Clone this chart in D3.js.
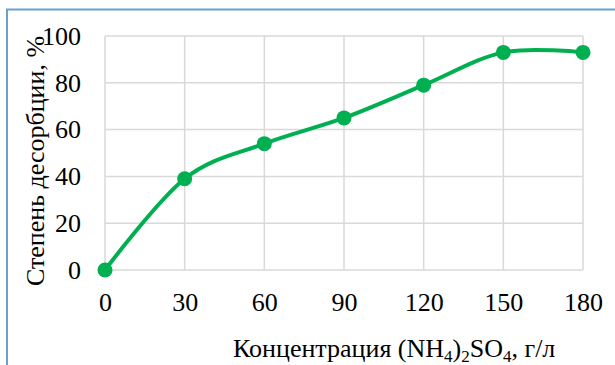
<!DOCTYPE html>
<html>
<head>
<meta charset="utf-8">
<script src="https://cdn.jsdelivr.net/npm/d3@7"></script>
<style>
  html, body { margin: 0; padding: 0; background: #fff; }
  svg { display: block; }
  text { font-family: "Liberation Serif", "Times New Roman", serif; fill: #000; }
</style>
</head>
<body>
<script>
// Desorption degree vs. ammonium sulfate concentration
const concentrations = [0, 30, 60, 90, 120, 150, 180];
const desorption = [0, 39, 54, 65, 79, 93, 93];
const xTicks = [0, 30, 60, 90, 120, 150, 180];
const yTicks = [0, 20, 40, 60, 80, 100];

const W = 615, H = 365;
const plot = { left: 105, right: 583, top: 36, bottom: 270 };
const FONT = '"Liberation Serif", "Times New Roman", serif';

const svg = d3.select("body").append("svg")
  .attr("width", W).attr("height", H);

// chart frame (only top and left edges fall inside the view)
svg.append("path")
  .attr("d", `M7,${H} V9.5 H${W}`)
  .attr("fill", "none")
  .attr("stroke", "#6a9fd6")
  .attr("stroke-width", 2);

const x = d3.scaleLinear().domain([0, 180]).range([plot.left, plot.right]);
const y = d3.scaleLinear().domain([0, 100]).range([plot.bottom, plot.top]);

// gridlines
const grid = svg.append("g").attr("stroke", "#d9d9d9").attr("stroke-width", 1.5);
grid.selectAll("line.h").data(yTicks).join("line")
  .attr("x1", plot.left).attr("x2", plot.right)
  .attr("y1", d => y(d)).attr("y2", d => y(d));
grid.selectAll("line.v").data(xTicks).join("line")
  .attr("y1", plot.top).attr("y2", plot.bottom)
  .attr("x1", d => x(d)).attr("x2", d => x(d));

// tick labels via d3 axes, with domain and tick marks hidden
const xAxis = svg.append("g")
  .attr("transform", `translate(0,${plot.bottom})`)
  .call(d3.axisBottom(x).tickValues(xTicks).tickSize(0).tickPadding(23));
const yAxis = svg.append("g")
  .attr("transform", `translate(${plot.left},0)`)
  .call(d3.axisLeft(y).tickValues(yTicks).tickSize(0).tickPadding(24));
[xAxis, yAxis].forEach(g => {
  g.select(".domain").remove();
  g.attr("font-family", null).attr("font-size", null);
  g.selectAll("text")
    .style("font-family", FONT)
    .style("font-size", "26px")
    .attr("fill", "#000");
});

// data line (smoothed) and markers
const line = d3.line()
  .x((d, i) => x(concentrations[i]))
  .y(d => y(d))
  .curve(d3.curveCardinal.tension(0));

svg.append("path")
  .datum(desorption)
  .attr("d", line)
  .attr("fill", "none")
  .attr("stroke", "#00b050")
  .attr("stroke-width", 4)
  .attr("stroke-linejoin", "round");

svg.selectAll("circle.pt").data(desorption).join("circle")
  .attr("class", "pt")
  .attr("cx", (d, i) => x(concentrations[i]))
  .attr("cy", d => y(d))
  .attr("r", 7.5)
  .attr("fill", "#00b050");

// y axis title
svg.append("text")
  .attr("transform", "translate(44,161) rotate(-90)")
  .attr("text-anchor", "middle")
  .style("font-size", "26px")
  .text("Степень десорбции, %");

// x axis title with chemical subscripts
const xt = svg.append("text")
  .attr("x", 233).attr("y", 357)
  .style("font-size", "26px");
xt.append("tspan").text("Концентрация (NH");
xt.append("tspan").text("4").attr("dy", 5).style("font-size", "17px");
xt.append("tspan").text(")").attr("dy", -5);
xt.append("tspan").text("2").attr("dy", 5).style("font-size", "17px");
xt.append("tspan").text("SO").attr("dy", -5);
xt.append("tspan").text("4").attr("dy", 5).style("font-size", "17px");
xt.append("tspan").text(", г/л").attr("dy", -5);
</script>
</body>
</html>
